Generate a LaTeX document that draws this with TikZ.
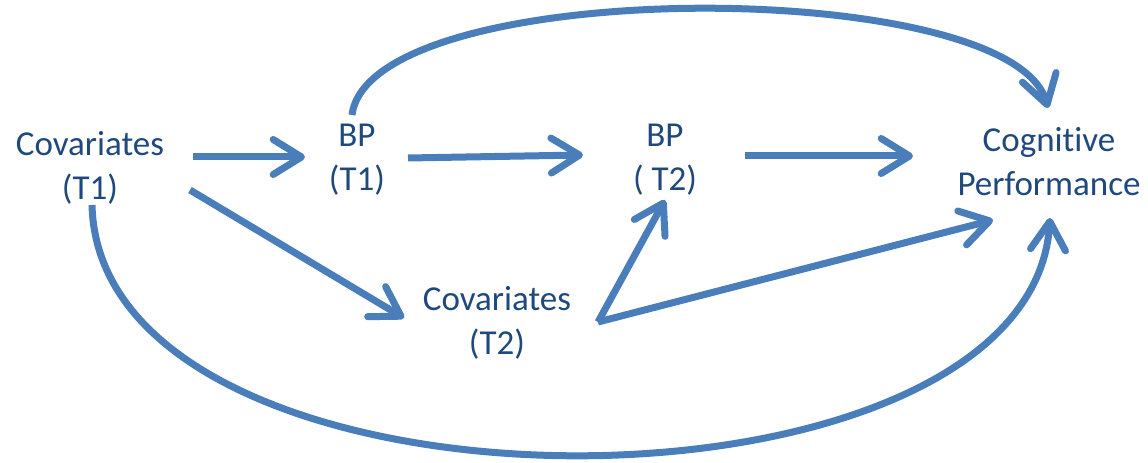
\documentclass[tikz,border=0pt]{standalone}
\usepackage{fontspec}
\setmainfont[Ligatures=CommonOff]{Carlito}
\usetikzlibrary{arrows.meta}
\definecolor{linkblue}{HTML}{4A7EBB}
\definecolor{textblue}{HTML}{1F497D}

\begin{document}
\begin{tikzpicture}[x=0.6pt,y=-0.6pt,
    var/.style={align=center,text=textblue,font=\fontsize{21}{26.4}\selectfont,inner sep=0pt},
    link/.style={draw=linkblue,line width=4.2pt,-{Straight Barb[length=17pt,width=21pt,line cap=round,line join=round]}}]
        \useasboundingbox (0,0) rectangle (1148,463);
        % variables
        \node[var] (cov1) at (90,168) {Covariates\\(T1)};
        \node[var] (bp1) at (357,160) {BP\\(T1)};
        \node[var] (bp2) at (665,160) {BP\\( T2)};
        \node[var] (cog) at (1049,162) {Cognitive\\Performance};
        \node[var] (cov2) at (497,323) {Covariates\\(T2)};

        % straight paths
        \draw[link] ([shift={(103,-11)}]cov1.center) -- ([shift={(-52,-3)}]bp1.center);
        \draw[link] ([shift={(51,-2)}]bp1.center) -- ([shift={(-82,-5)}]bp2.center);
        \draw[link] ([shift={(80,-4)}]bp2.center) -- ([shift={(-136,-6)}]cog.center);
        \draw[link] ([shift={(100,22)}]cov1.center) -- ([shift={(-93,-5)}]cov2.center);
        \draw[link] ([shift={(101,-1)}]cov2.center) -- ([shift={(0,40)}]bp2.center);
        \draw[link] ([shift={(101,-1)}]cov2.center) -- ([shift={(-56,58)}]cog.center);

        % curved paths
        \draw[link] ([shift={(-5,-45)}]bp1.center) .. controls +(18,-140) and +(-38,-133) .. ([shift={(-1,-54)}]cog.center);
        \draw[link] ([shift={(2,37)}]cov1.center) .. controls +(8,331) and +(-20,318) .. ([shift={(1,56)}]cog.center);
\end{tikzpicture}
\end{document}
